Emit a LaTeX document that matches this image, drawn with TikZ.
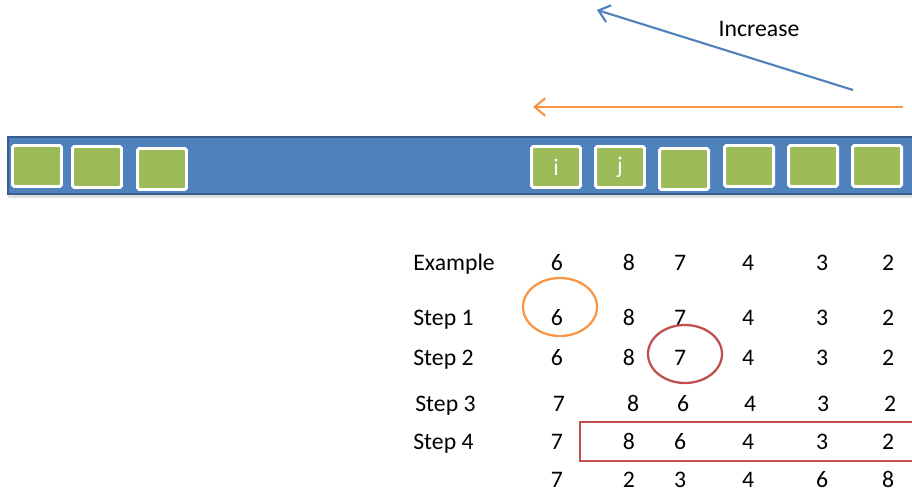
\documentclass[tikz,border=0pt]{standalone}
\usepackage{fontspec}
\setmainfont{Carlito}
\usetikzlibrary{arrows.meta,shadows}

\definecolor{barblue}{HTML}{4F81BD}
\definecolor{bardark}{HTML}{385D8A}
\definecolor{cellgreen}{HTML}{9BBB59}
\definecolor{markorange}{HTML}{F79646}
\definecolor{markred}{HTML}{C0504D}

\tikzset{
  cell/.style={draw=white, line width=1.7pt, fill=cellgreen, rounded corners=1pt,
    minimum width=0.98cm, minimum height=0.82cm, inner sep=0pt, text=white,
    drop shadow={shadow xshift=0.6pt, shadow yshift=-0.8pt, opacity=0.35}},
  num/.style={inner sep=0pt, text height=1.5ex, text depth=0.3ex},
  rowlabel/.style={num, anchor=west},
  pointer/.style={line width=1.2pt, -{Straight Barb[length=6pt, width=10pt]}},
}

\begin{document}
\begin{tikzpicture}[x=0.02cm, y=-0.02cm, font=\fontsize{13.5}{16}\selectfont]
  \useasboundingbox (0,0) rectangle (912,493);

  % the bar
  \fill[gray!25] (8,195) rectangle (912,198);
  \draw[fill=barblue, draw=bardark, line width=1.2pt] (8,137) rectangle (914,194);

  \node[cell] (c1) at (37,166) {};
  \node[cell] (c2) at (97,167) {};
  \node[cell] (c3) at (162,169) {};
  \node[cell] (ci) at (556,167) {i};
  \node[cell] (cj) at (620,167) {j};
  \node[cell] (c4) at (684,169) {};
  \node[cell] (c5) at (749,166) {};
  \node[cell] (c6) at (813,166) {};
  \node[cell] (c7) at (877,166) {};

  % arrows
  \coordinate (blueS) at (853,90);
  \coordinate (blueE) at (597,10);
  \coordinate (orS) at (903,107);
  \coordinate (orE) at (533,107);
  \draw[pointer, barblue] (blueS) -- (blueE);
  \draw[pointer, markorange] (orS) -- (orE);
  \node (inc) at (759,29) {Increase};

  % table
  \node[rowlabel] (l0) at (413,265) {Example};
  \node[rowlabel] (l1) at (413,320) {Step 1};
  \node[rowlabel] (l2) at (413,360) {Step 2};
  \node[rowlabel] (l3) at (415,406) {Step 3};
  \node[rowlabel] (l4) at (413,444) {Step 4};

  \foreach \x/\v [count=\c] in {557/6,629/8,680/7,748/4,822/3,888/2}
    \node[num] (r0c\c) at (\x,265) {\v};
  \foreach \x/\v [count=\c] in {557/6,629/8,680/7,748/4,822/3,888/2}
    \node[num] (r1c\c) at (\x,320) {\v};
  \foreach \x/\v [count=\c] in {557/6,629/8,680/7,748/4,822/3,888/2}
    \node[num] (r2c\c) at (\x,360) {\v};
  \foreach \x/\v [count=\c] in {559/7,633/8,683/6,750/4,823/3,890/2}
    \node[num] (r3c\c) at (\x,406) {\v};
  \foreach \x/\v [count=\c] in {557/7,629/8,680/6,748/4,822/3,888/2}
    \node[num] (r4c\c) at (\x,444) {\v};
  \foreach \x/\v [count=\c] in {557/7,629/2,680/3,748/4,822/6,888/8}
    \node[num] (r5c\c) at (\x,482) {\v};

  % marks
  \draw[markorange, line width=1.3pt] (560,307) ellipse [x radius=37, y radius=29];
  \draw[markred, line width=1.3pt] (685,354) ellipse [x radius=37, y radius=29];
  \draw[markred, line width=1.3pt] (580,422) -- (916,422) (580,422) rectangle (916,461);
\end{tikzpicture}
\end{document}
